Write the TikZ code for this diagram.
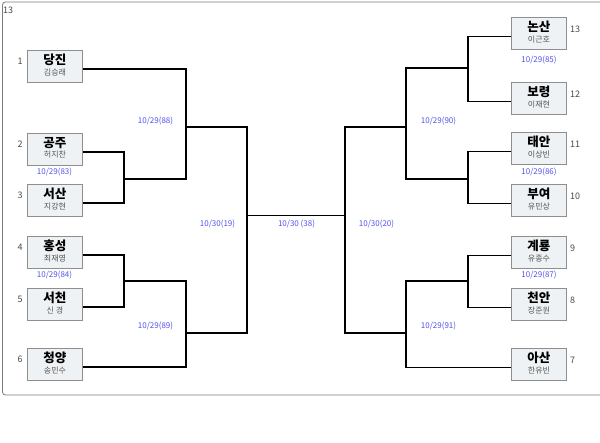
\documentclass[tikz,border=0pt]{standalone}
\usepackage{fontspec}
\setmainfont{Noto Sans CJK KR}
\definecolor{boxfill}{HTML}{EFF2F5}
\definecolor{boxline}{HTML}{8E8E8E}
\definecolor{lblblue}{HTML}{5353EE}
\definecolor{numgrey}{HTML}{4A4A4A}
\definecolor{playergrey}{HTML}{555555}
\definecolor{framegrey}{HTML}{7A7A7A}
\tikzset{
  team/.style={draw=boxline,fill=boxfill,line width=0.9pt,minimum width=55pt,minimum height=32pt,inner sep=0pt},
  wire/.style={line width=1.8pt,line join=miter},
  lbl/.style={text=lblblue,font=\fontsize{8}{9}\selectfont,inner sep=0pt},
  seed/.style={text=numgrey,font=\fontsize{9}{10}\selectfont,inner sep=0pt},
}
\newcommand{\teamtext}[2]{\begin{tabular}{@{}c@{}}\fontsize{12.5}{13}\selectfont\bfseries #1\\[-1.5pt]\fontsize{8}{9}\selectfont\color{playergrey} #2\end{tabular}}
\begin{document}
\begin{tikzpicture}[x=1pt,y=-1pt]
\clip (0,0) rectangle (600,443);
\fill[white] (0,0) rectangle (600,443);
\draw[framegrey,line width=0.8pt,rounded corners=3pt] (2.5,2) rectangle (620,395);
\node[seed,anchor=west,text=numgrey] (title) at (3,10.5) {13};
% left boxes
\node[team,anchor=north west] (b1) at (27,50) {\teamtext{당진}{김승래}};
\node[team,anchor=north west] (b2) at (27,133) {\teamtext{공주}{허지찬}};
\node[team,anchor=north west] (b3) at (27,184) {\teamtext{서산}{지강현}};
\node[team,anchor=north west] (b4) at (27,236) {\teamtext{홍성}{최재영}};
\node[team,anchor=north west] (b5) at (27,288) {\teamtext{서천}{신 경}};
\node[team,anchor=north west] (b6) at (27,348) {\teamtext{청양}{송민수}};
% right boxes
\node[team,anchor=north west] (r13) at (511,17) {\teamtext{논산}{이근호}};
\node[team,anchor=north west] (r12) at (511,82) {\teamtext{보령}{이재현}};
\node[team,anchor=north west] (r11) at (511,132) {\teamtext{태안}{이상빈}};
\node[team,anchor=north west] (r10) at (511,184) {\teamtext{부여}{유민상}};
\node[team,anchor=north west] (r9) at (511,236) {\teamtext{계룡}{유종수}};
\node[team,anchor=north west] (r8) at (511,288) {\teamtext{천안}{장준원}};
\node[team,anchor=north west] (r7) at (511,348) {\teamtext{아산}{한유빈}};
% seed numbers
\foreach \n/\t in {1/b1,2/b2,3/b3,4/b4,5/b5,6/b6}{
  \node[seed] (s\n) at ([xshift=-7pt,yshift=-11pt]\t.north west) {\n};
}
\foreach \n/\t in {13/r13,12/r12,11/r11,10/r10,9/r9,8/r8,7/r7}{
  \node[seed,anchor=west] (s\n) at ([xshift=3pt,yshift=-12pt]\t.north east) {\n};
}
% outlet coordinates
\foreach \t in {b1,b2,b3,b4,b5,b6}{\coordinate (\t o) at ([yshift=-19pt]\t.north east);}
\foreach \t in {r13,r12,r11,r10,r9,r8,r7}{\coordinate (\t o) at ([yshift=-19.5pt]\t.north west);}
% junctions
\coordinate (m83) at (124,179);
\coordinate (m84) at (124,281);
\coordinate (m88) at (186,127);
\coordinate (m89) at (186,333);
\coordinate (m19) at (247,215.5);
\coordinate (m85) at (468,68);
\coordinate (m86) at (468,179);
\coordinate (m87) at (468,281);
\coordinate (m90) at (406,127);
\coordinate (m91) at (406,333);
\coordinate (m20) at (345,215.5);
% left wires
\draw[wire] (b2o) -| (m83) |- (b3o);
\draw[wire] (b4o) -| (m84) |- (b5o);
\draw[wire] (b1o) -| (m88) |- (m83);
\draw[wire] (m84) -| (m89) |- (b6o);
\draw[wire] (m88) -| (m19) |- (m89);
\draw[wire] (m19) -- (m20);
% right wires
\draw[wire] (r13o) -| (m85) |- (r12o);
\draw[wire] (r11o) -| (m86) |- (r10o);
\draw[wire] (r9o) -| (m87) |- (r8o);
\draw[wire] (m85) -| (m90) |- (m86);
\draw[wire] (m87) -| (m91) |- (r7o);
\draw[wire] (m90) -| (m20) |- (m91);
% labels
\node[lbl] (l83) at (54.5,172.5) {10/29(83)};
\node[lbl] (l84) at (54.5,275) {10/29(84)};
\node[lbl] (l88) at (155.5,121.5) {10/29(88)};
\node[lbl] (l89) at (155.5,326.5) {10/29(89)};
\node[lbl] (l19) at (217.5,224.5) {10/30(19)};
\node[lbl] (l38) at (296.5,224.5) {10/30 (38)};
\node[lbl] (l20) at (376.5,224.5) {10/30(20)};
\node[lbl] (l90) at (438.5,121.5) {10/29(90)};
\node[lbl] (l91) at (438.5,326.5) {10/29(91)};
\node[lbl] (l85) at (539,60.5) {10/29(85)};
\node[lbl] (l86) at (539,172.5) {10/29(86)};
\node[lbl] (l87) at (539,275) {10/29(87)};
\end{tikzpicture}
\end{document}
